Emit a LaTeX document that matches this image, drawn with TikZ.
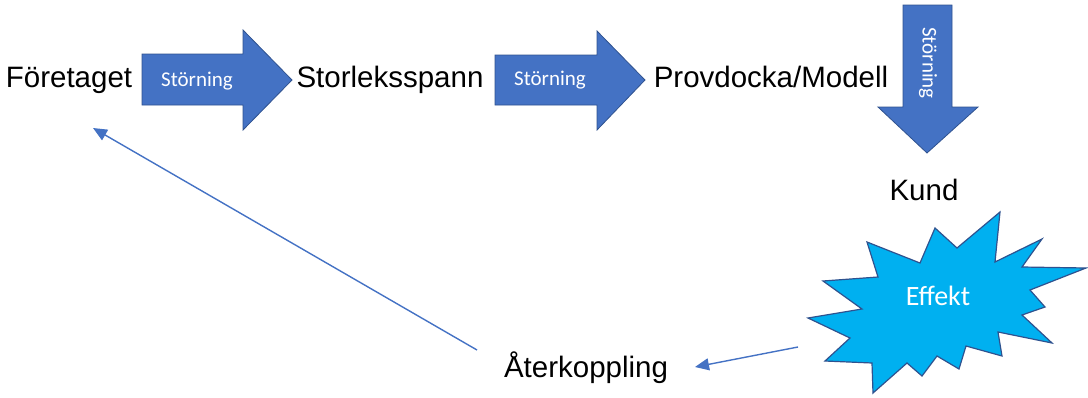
\documentclass[tikz,border=0pt]{standalone}
\usepackage{fontspec}
\setmainfont{Liberation Sans}
\newfontfamily\calibri{Carlito}
\usetikzlibrary{arrows.meta}
\definecolor{accent}{HTML}{4472C4}
\definecolor{accentdark}{HTML}{2F528F}
\definecolor{burst}{HTML}{00B0F0}
\begin{document}
\begin{tikzpicture}[x=1pt,y=-1pt,
  lbl/.style={font=\fontsize{29.5}{33}\selectfont, inner sep=0pt, anchor=base},
  blockarrow/.style={fill=accent, draw=accentdark, line width=0.8pt, line join=miter},
  tag/.style={text=white, font=\calibri\fontsize{21}{24}\selectfont, inner sep=0pt},
  feedback/.style={draw=accent, line width=1.4pt, -{Triangle[length=14pt,width=12pt]}}]
\useasboundingbox (0,0) rectangle (1088,397);

% text labels
\node[lbl] (foretaget) at (69,87) {Företaget};
\node[lbl] (storlek) at (390,87) {Storleksspann};
\node[lbl] (provdocka) at (771,87) {Provdocka/Modell};
\node[lbl] (kund) at (924,200) {Kund};
\node[lbl] (ater) at (586,377) {Återkoppling};

% block arrows
\draw[blockarrow] (142,54) -- (243,54) -- (243,30) -- (292,80) -- (243,130) -- (243,105) -- (142,105) -- cycle;
\draw[blockarrow] (495,55) -- (597,55) -- (597,31) -- (645,80) -- (597,130) -- (597,105) -- (495,105) -- cycle;
\draw[blockarrow] (903,5) -- (952,5) -- (952,107) -- (978,107) -- (927,153) -- (878,107) -- (903,107) -- cycle;
\node[tag] (s1) at (197,81) {Störning};
\node[tag] (s2) at (550,80) {Störning};
\node[tag, rotate=-90] (s3) at (928,63) {Störning};

% starburst
\draw[fill=burst, draw=accentdark, line width=1.2pt, line join=miter]
  (1000,212) -- (995,262) -- (1042,239) -- (1022,267) -- (1086,268) -- (1030,290)
  -- (1045,307) -- (1022,315) -- (1052,343) -- (998,332) -- (1002,356) -- (966,346)
  -- (959,369) -- (937,356) -- (922,376) -- (907,363) -- (873,393) -- (872,363)
  -- (825,361) -- (850,338) -- (808,318) -- (862,309) -- (823,281) -- (878,277)
  -- (867,242) -- (920,263) -- (935,228) -- (957,248) -- cycle;
\node[text=white, font=\calibri\fontsize{28}{32}\selectfont, inner sep=0pt] (effekt) at (938,296) {Effekt};

% feedback connectors
\coordinate (fbA) at (477,350);
\coordinate (fbB) at (93,128);
\coordinate (fbC) at (798,347);
\coordinate (fbD) at (695,367);
\draw[feedback] (fbA) -- (fbB);
\draw[feedback] (fbC) -- (fbD);
\end{tikzpicture}
\end{document}
